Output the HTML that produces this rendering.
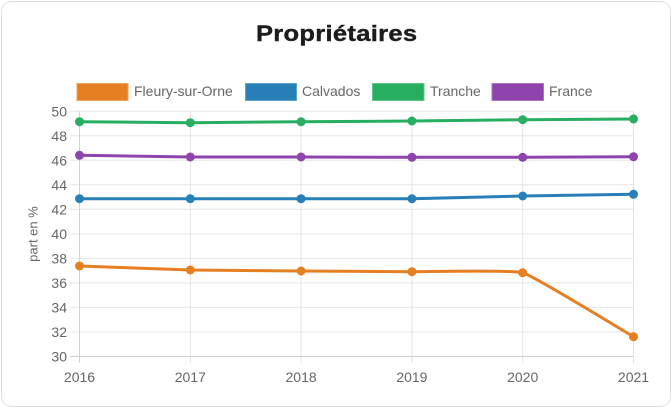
<!DOCTYPE html>
<html>
<head>
<meta charset="utf-8">
<style>
html,body{margin:0;padding:0;background:#fff;}
svg{display:block;}
text{font-family:"Liberation Sans",Arial,sans-serif;}
</style>
</head>
<body>
<svg width="672" height="408" viewBox="0 0 672 408" xmlns="http://www.w3.org/2000/svg">
  <rect x="1.5" y="1.5" width="669" height="405" rx="10" ry="10" fill="#fff" stroke="#dedede" stroke-width="1"/>

  <!-- Title -->
  <text transform="translate(256,41) scale(1.16,1)" x="0" y="0" font-size="22" font-weight="bold" fill="#1c1c1c" stroke="#1c1c1c" stroke-width="0.4" textLength="138.8" lengthAdjust="spacing">Propriétaires</text>

  <!-- Legend -->
  <rect x="77" y="83.5" width="51" height="17" fill="#e67e22" stroke="#f0a060" stroke-width="1"/>
  <text x="134" y="96" font-size="14" fill="#666">Fleury-sur-Orne</text>
  <rect x="245.5" y="83.5" width="51" height="17" fill="#2980b9" stroke="#5fa3d0" stroke-width="1"/>
  <text x="302" y="96" font-size="14" fill="#666">Calvados</text>
  <rect x="372.5" y="83.5" width="51.5" height="17" fill="#27ae60" stroke="#5cc98a" stroke-width="1"/>
  <text x="430" y="96" font-size="14" fill="#666">Tranche</text>
  <rect x="492" y="83.5" width="51.5" height="17" fill="#8e44ad" stroke="#ab74c4" stroke-width="1"/>
  <text x="549" y="96" font-size="14" fill="#666">France</text>

  <!-- Horizontal grid -->
  <g stroke="#e6e6e6" stroke-width="1">
    <line x1="70" y1="111.3" x2="633.5" y2="111.3"/>
    <line x1="70" y1="135.8" x2="633.5" y2="135.8"/>
    <line x1="70" y1="160.3" x2="633.5" y2="160.3"/>
    <line x1="70" y1="184.8" x2="633.5" y2="184.8"/>
    <line x1="70" y1="209.3" x2="633.5" y2="209.3"/>
    <line x1="70" y1="233.9" x2="633.5" y2="233.9"/>
    <line x1="70" y1="258.4" x2="633.5" y2="258.4"/>
    <line x1="70" y1="282.9" x2="633.5" y2="282.9"/>
    <line x1="70" y1="307.4" x2="633.5" y2="307.4"/>
    <line x1="70" y1="331.9" x2="633.5" y2="331.9"/>
  </g>
  <!-- Vertical grid -->
  <g stroke="#e3e3e3" stroke-width="1">
    <line x1="190.3" y1="111.3" x2="190.3" y2="363"/>
    <line x1="301.1" y1="111.3" x2="301.1" y2="363"/>
    <line x1="411.9" y1="111.3" x2="411.9" y2="363"/>
    <line x1="522.7" y1="111.3" x2="522.7" y2="363"/>
    <line x1="633.5" y1="111.3" x2="633.5" y2="363"/>
  </g>
  <!-- Axes -->
  <line x1="79.5" y1="111.3" x2="79.5" y2="363" stroke="#d2d2d2" stroke-width="1"/>
  <line x1="70" y1="356.5" x2="633.5" y2="356.5" stroke="#cfcfcf" stroke-width="1"/>

  <!-- Y tick labels -->
  <g font-size="14" fill="#666" text-anchor="end">
    <text x="67" y="116.3">50</text>
    <text x="67" y="140.8">48</text>
    <text x="67" y="165.3">46</text>
    <text x="67" y="189.8">44</text>
    <text x="67" y="214.3">42</text>
    <text x="67" y="238.9">40</text>
    <text x="67" y="263.4">38</text>
    <text x="67" y="287.9">36</text>
    <text x="67" y="312.4">34</text>
    <text x="67" y="336.9">32</text>
    <text x="67" y="361.5">30</text>
  </g>
  <!-- X tick labels -->
  <g font-size="14" fill="#666" text-anchor="middle">
    <text x="79.5" y="382">2016</text>
    <text x="190.3" y="382">2017</text>
    <text x="301.1" y="382">2018</text>
    <text x="411.9" y="382">2019</text>
    <text x="522.7" y="382">2020</text>
    <text x="633.5" y="382">2021</text>
  </g>
  <!-- Y axis title -->
  <text transform="translate(37.5,234) rotate(-90)" font-size="13" fill="#666" text-anchor="middle">part en %</text>

  <!-- Series: Tranche (green) -->
  <g stroke="#27ae60" fill="#27ae60">
    <polyline fill="none" stroke-width="3" stroke-linejoin="round" points="79.5,121.7 190.3,122.7 301.1,121.7 411.9,121 522.7,119.7 633.5,119"/>
    <circle cx="79.5" cy="121.7" r="4"/>
    <circle cx="190.3" cy="122.7" r="4"/>
    <circle cx="301.1" cy="121.7" r="4"/>
    <circle cx="411.9" cy="121" r="4"/>
    <circle cx="522.7" cy="119.7" r="4"/>
    <circle cx="633.5" cy="119" r="4"/>
  </g>
  <!-- Series: France (purple) -->
  <g stroke="#8e44ad" fill="#8e44ad">
    <polyline fill="none" stroke-width="3" stroke-linejoin="round" points="79.5,155.3 190.3,157 301.1,157 411.9,157.3 522.7,157.3 633.5,156.7"/>
    <circle cx="79.5" cy="155.3" r="4"/>
    <circle cx="190.3" cy="157" r="4"/>
    <circle cx="301.1" cy="157" r="4"/>
    <circle cx="411.9" cy="157.3" r="4"/>
    <circle cx="522.7" cy="157.3" r="4"/>
    <circle cx="633.5" cy="156.7" r="4"/>
  </g>
  <!-- Series: Calvados (blue) -->
  <g stroke="#2980b9" fill="#2980b9">
    <polyline fill="none" stroke-width="3" stroke-linejoin="round" points="79.5,198.7 190.3,198.7 301.1,198.7 411.9,198.7 522.7,196 633.5,194.3"/>
    <circle cx="79.5" cy="198.7" r="4"/>
    <circle cx="190.3" cy="198.7" r="4"/>
    <circle cx="301.1" cy="198.7" r="4"/>
    <circle cx="411.9" cy="198.7" r="4"/>
    <circle cx="522.7" cy="196" r="4"/>
    <circle cx="633.5" cy="194.3" r="4"/>
  </g>
  <!-- Series: Fleury-sur-Orne (orange) -->
  <g stroke="#e67e22" fill="#e67e22">
    <path fill="none" stroke-width="3" stroke-linejoin="round" d="M79.5,266 L190.3,270 L301.1,271 L411.9,271.7 C423,271.8 512.4,269.7 522.7,272.7 C534.6,276.2 622.4,330.3 633.5,336.7"/>
    <circle cx="79.5" cy="266" r="4"/>
    <circle cx="190.3" cy="270" r="4"/>
    <circle cx="301.1" cy="271" r="4"/>
    <circle cx="411.9" cy="271.7" r="4"/>
    <circle cx="522.7" cy="272.7" r="4"/>
    <circle cx="633.5" cy="336.7" r="4"/>
  </g>
</svg>
</body>
</html>
